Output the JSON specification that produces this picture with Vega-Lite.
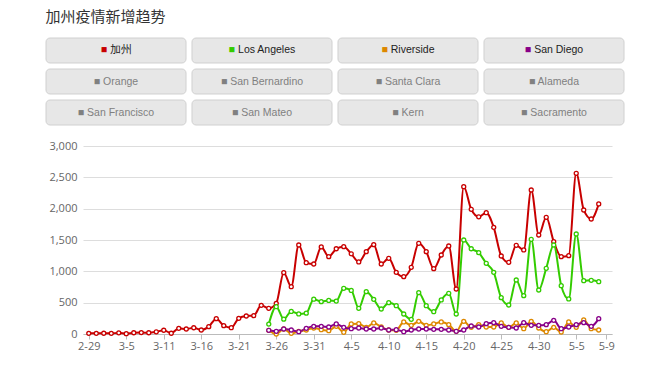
{
  "$schema": "https://vega.github.io/schema/vega-lite/v6.json",
  "background": "white",
  "padding": {"left": 45, "top": 9, "right": 10, "bottom": 5},
  "title": {"text": "加州疫情新增趋势", "anchor": "start", "font": "Noto Sans CJK SC", "fontSize": 15, "fontWeight": "normal", "color": "#333333", "offset": 13},
  "config": {"view": {"stroke": null}, "font": "Open Sans"},
  "spacing": 14,
  "datasets": {
    "buttons": [
      {"name": "加州", "col": 0, "row": 0, "on": true},
      {"name": "Los Angeles", "col": 1, "row": 0, "on": true},
      {"name": "Riverside", "col": 2, "row": 0, "on": true},
      {"name": "San Diego", "col": 3, "row": 0, "on": true},
      {"name": "Orange", "col": 0, "row": 1, "on": false},
      {"name": "San Bernardino", "col": 1, "row": 1, "on": false},
      {"name": "Santa Clara", "col": 2, "row": 1, "on": false},
      {"name": "Alameda", "col": 3, "row": 1, "on": false},
      {"name": "San Francisco", "col": 0, "row": 2, "on": false},
      {"name": "San Mateo", "col": 1, "row": 2, "on": false},
      {"name": "Kern", "col": 2, "row": 2, "on": false},
      {"name": "Sacramento", "col": 3, "row": 2, "on": false}
    ],
    "cases": [
      {"d": "2-29", "加州": 10},
      {"d": "3-1", "加州": 10},
      {"d": "3-2", "加州": 12},
      {"d": "3-3", "加州": 10},
      {"d": "3-4", "加州": 18},
      {"d": "3-5", "加州": 5},
      {"d": "3-6", "加州": 20},
      {"d": "3-8", "加州": 22},
      {"d": "3-9", "加州": 20},
      {"d": "3-10", "加州": 35},
      {"d": "3-11", "加州": 60},
      {"d": "3-12", "加州": 12},
      {"d": "3-13", "加州": 90},
      {"d": "3-14", "加州": 80},
      {"d": "3-15", "加州": 100},
      {"d": "3-16", "加州": 64},
      {"d": "3-17", "加州": 117},
      {"d": "3-18", "加州": 245},
      {"d": "3-19", "加州": 133},
      {"d": "3-20", "加州": 101},
      {"d": "3-21", "加州": 250},
      {"d": "3-22", "加州": 287},
      {"d": "3-23", "加州": 293},
      {"d": "3-24", "加州": 457},
      {"d": "3-25", "加州": 410, "Los Angeles": 158, "Riverside": 59, "San Diego": 59},
      {"d": "3-26", "加州": 489, "Los Angeles": 436, "Riverside": 0, "San Diego": 43},
      {"d": "3-27", "加州": 979, "Los Angeles": 237, "Riverside": 80, "San Diego": 80},
      {"d": "3-28", "加州": 755, "Los Angeles": 360, "Riverside": 11, "San Diego": 64},
      {"d": "3-29", "加州": 1420, "Los Angeles": 320, "Riverside": 43, "San Diego": 37},
      {"d": "3-30", "加州": 1138, "Los Angeles": 333, "Riverside": 64, "San Diego": 90},
      {"d": "3-31", "加州": 1117, "Los Angeles": 555, "Riverside": 96, "San Diego": 122},
      {"d": "4-1", "加州": 1390, "Los Angeles": 516, "Riverside": 69, "San Diego": 122},
      {"d": "4-2", "加州": 1234, "Los Angeles": 535, "Riverside": 53, "San Diego": 112},
      {"d": "4-3", "加州": 1360, "Los Angeles": 525, "Riverside": 122, "San Diego": 160},
      {"d": "4-4", "加州": 1394, "Los Angeles": 729, "Riverside": 27, "San Diego": 106},
      {"d": "4-5", "加州": 1280, "Los Angeles": 695, "Riverside": 160, "San Diego": 85},
      {"d": "4-6", "加州": 1150, "Los Angeles": 410, "Riverside": 165, "San Diego": 96},
      {"d": "4-7", "加州": 1314, "Los Angeles": 676, "Riverside": 106, "San Diego": 80},
      {"d": "4-8", "加州": 1426, "Los Angeles": 553, "Riverside": 176, "San Diego": 80},
      {"d": "4-9", "加州": 1117, "Los Angeles": 399, "Riverside": 112, "San Diego": 96},
      {"d": "4-10", "加州": 1208, "Los Angeles": 500, "Riverside": 64, "San Diego": 64},
      {"d": "4-11", "加州": 984, "Los Angeles": 452, "Riverside": 59, "San Diego": 69},
      {"d": "4-12", "加州": 915, "Los Angeles": 319, "Riverside": 192, "San Diego": 37},
      {"d": "4-13", "加州": 1064, "Los Angeles": 234, "Riverside": 138, "San Diego": 64},
      {"d": "4-14", "加州": 1447, "Los Angeles": 660, "Riverside": 202, "San Diego": 80},
      {"d": "4-15", "加州": 1314, "Los Angeles": 452, "Riverside": 138, "San Diego": 80},
      {"d": "4-16", "加州": 1043, "Los Angeles": 356, "Riverside": 160, "San Diego": 74},
      {"d": "4-17", "加州": 1261, "Los Angeles": 543, "Riverside": 192, "San Diego": 74},
      {"d": "4-18", "加州": 1404, "Los Angeles": 649, "Riverside": 149, "San Diego": 64},
      {"d": "4-19", "加州": 718, "Los Angeles": 319, "Riverside": 43, "San Diego": 43},
      {"d": "4-20", "加州": 2351, "Los Angeles": 1500, "Riverside": 202, "San Diego": 64},
      {"d": "4-21", "加州": 1990, "Los Angeles": 1360, "Riverside": 106, "San Diego": 128},
      {"d": "4-22", "加州": 1870, "Los Angeles": 1298, "Riverside": 149, "San Diego": 112},
      {"d": "4-23", "加州": 1936, "Los Angeles": 1128, "Riverside": 112, "San Diego": 165},
      {"d": "4-24", "加州": 1702, "Los Angeles": 984, "Riverside": 112, "San Diego": 181},
      {"d": "4-25", "加州": 1245, "Los Angeles": 580, "Riverside": 176, "San Diego": 122},
      {"d": "4-26", "加州": 1144, "Los Angeles": 463, "Riverside": 106, "San Diego": 106},
      {"d": "4-27", "加州": 1415, "Los Angeles": 862, "Riverside": 176, "San Diego": 96},
      {"d": "4-28", "加州": 1341, "Los Angeles": 612, "Riverside": 85, "San Diego": 181},
      {"d": "4-29", "加州": 2298, "Los Angeles": 1511, "Riverside": 202, "San Diego": 138},
      {"d": "4-30", "加州": 1580, "Los Angeles": 702, "Riverside": 96, "San Diego": 138},
      {"d": "5-1", "加州": 1862, "Los Angeles": 1048, "Riverside": 37, "San Diego": 149},
      {"d": "5-2", "加州": 1474, "Los Angeles": 1420, "Riverside": 106, "San Diego": 218},
      {"d": "5-3", "加州": 1234, "Los Angeles": 771, "Riverside": 32, "San Diego": 85},
      {"d": "5-4", "加州": 1250, "Los Angeles": 559, "Riverside": 192, "San Diego": 112},
      {"d": "5-5", "加州": 2564, "Los Angeles": 1596, "Riverside": 106, "San Diego": 149},
      {"d": "5-6", "加州": 1979, "Los Angeles": 851, "Riverside": 224, "San Diego": 181},
      {"d": "5-7", "加州": 1835, "Los Angeles": 857, "Riverside": 85, "San Diego": 122},
      {"d": "5-8", "加州": 2075, "Los Angeles": 835, "Riverside": 64, "San Diego": 245}
    ]
  },
  "vconcat": [
    {
      "width": 541,
      "height": 87,
      "data": {"name": "buttons"},
      "transform": [{"calculate": "'■ ' + datum.name", "as": "tag"}],
      "encoding": {
        "x": {"field": "col", "type": "ordinal", "axis": null, "scale": {"range": [-37, 541], "paddingInner": 0.041, "paddingOuter": 0, "round": false}},
        "y": {"field": "row", "type": "ordinal", "axis": null, "scale": {"paddingInner": 0.194, "paddingOuter": 0, "round": false}}
      },
      "layer": [
        {"mark": {"type": "rect", "cornerRadius": 4, "fill": "#e7e7e7", "stroke": "#d0d0d0", "strokeWidth": 1}},
        {
          "transform": [{"filter": "!datum.on"}],
          "mark": {"type": "text", "font": "Liberation Sans", "fontSize": 10.5, "baseline": "middle", "color": "#808080"},
          "encoding": {"text": {"field": "tag"}}
        },
        {
          "transform": [{"filter": "datum.on"}],
          "mark": {"type": "text", "font": "Liberation Sans", "fontSize": 10.5, "baseline": "middle", "dx": 4.65, "color": "#222222"},
          "encoding": {"text": {"field": "name"}}
        },
        {
          "transform": [{"filter": "datum.on"}],
          "mark": {"type": "text", "font": "Liberation Sans", "fontSize": 10.5, "baseline": "middle", "align": "right",
            "dx": {"expr": "datum.name == '加州' ? -8.8 : datum.name == 'Los Angeles' ? -27.2 : datum.name == 'Riverside' ? -20.2 : -22.8"}},
          "encoding": {
            "text": {"value": "■"},
            "color": {"field": "name", "type": "nominal", "legend": null,
              "scale": {"domain": ["加州", "Los Angeles", "Riverside", "San Diego"], "range": ["#c80000", "#33cc00", "#dd8800", "#880088"]}}
          }
        }
      ]
    },
    {
      "width": 529,
      "height": 188,
      "data": {"name": "cases"},
      "transform": [
        {"fold": ["加州", "Los Angeles", "Riverside", "San Diego"], "as": ["s", "v"]},
        {"filter": "isValid(datum.v)"}
      ],
      "encoding": {
        "x": {
          "field": "d", "type": "ordinal",
          "scale": {"type": "point", "padding": 0.77,
            "domain": ["2-29", "3-1", "3-2", "3-3", "3-4", "3-5", "3-6", "3-8", "3-9", "3-10", "3-11", "3-12", "3-13", "3-14", "3-15", "3-16", "3-17", "3-18", "3-19", "3-20", "3-21", "3-22", "3-23", "3-24", "3-25", "3-26", "3-27", "3-28", "3-29", "3-30", "3-31", "4-1", "4-2", "4-3", "4-4", "4-5", "4-6", "4-7", "4-8", "4-9", "4-10", "4-11", "4-12", "4-13", "4-14", "4-15", "4-16", "4-17", "4-18", "4-19", "4-20", "4-21", "4-22", "4-23", "4-24", "4-25", "4-26", "4-27", "4-28", "4-29", "4-30", "5-1", "5-2", "5-3", "5-4", "5-5", "5-6", "5-7", "5-8", "5-9"]},
          "axis": {"values": ["2-29", "3-5", "3-11", "3-16", "3-21", "3-26", "3-31", "4-5", "4-10", "4-15", "4-20", "4-25", "4-30", "5-5", "5-9"],
            "labelAngle": 0, "title": null, "grid": false, "domainColor": "#bbbbbb", "tickColor": "#bbbbbb", "tickSize": 5,
            "labelColor": "#666666", "labelFontSize": 11, "labelFont": "Open Sans", "labelPadding": 1}
        },
        "y": {
          "field": "v", "type": "quantitative",
          "scale": {"domain": [0, 3000], "nice": false},
          "axis": {"values": [0, 500, 1000, 1500, 2000, 2500, 3000], "format": ",.0f", "title": null, "domain": false, "ticks": false,
            "labelPadding": 6, "labelColor": "#666666", "labelFontSize": 11, "labelFont": "Open Sans",
            "gridColor": "#dddddd", "gridWidth": 1, "minExtent": 37, "maxExtent": 37}
        }
      },
      "layer": [
        {
          "mark": {"type": "line", "interpolate": "monotone", "strokeWidth": 2},
          "encoding": {
            "color": {"field": "s", "type": "nominal", "legend": null,
              "scale": {"domain": ["加州", "Los Angeles", "Riverside", "San Diego"], "range": ["#c80000", "#33cc00", "#dd8800", "#880088"]}}
          }
        },
        {
          "mark": {"type": "point", "filled": true, "fill": "white", "size": 16, "strokeWidth": 1.3, "opacity": 1},
          "encoding": {
            "stroke": {"field": "s", "type": "nominal", "legend": null,
              "scale": {"domain": ["加州", "Los Angeles", "Riverside", "San Diego"], "range": ["#c80000", "#33cc00", "#dd8800", "#880088"]}}
          }
        }
      ]
    }
  ]
}
